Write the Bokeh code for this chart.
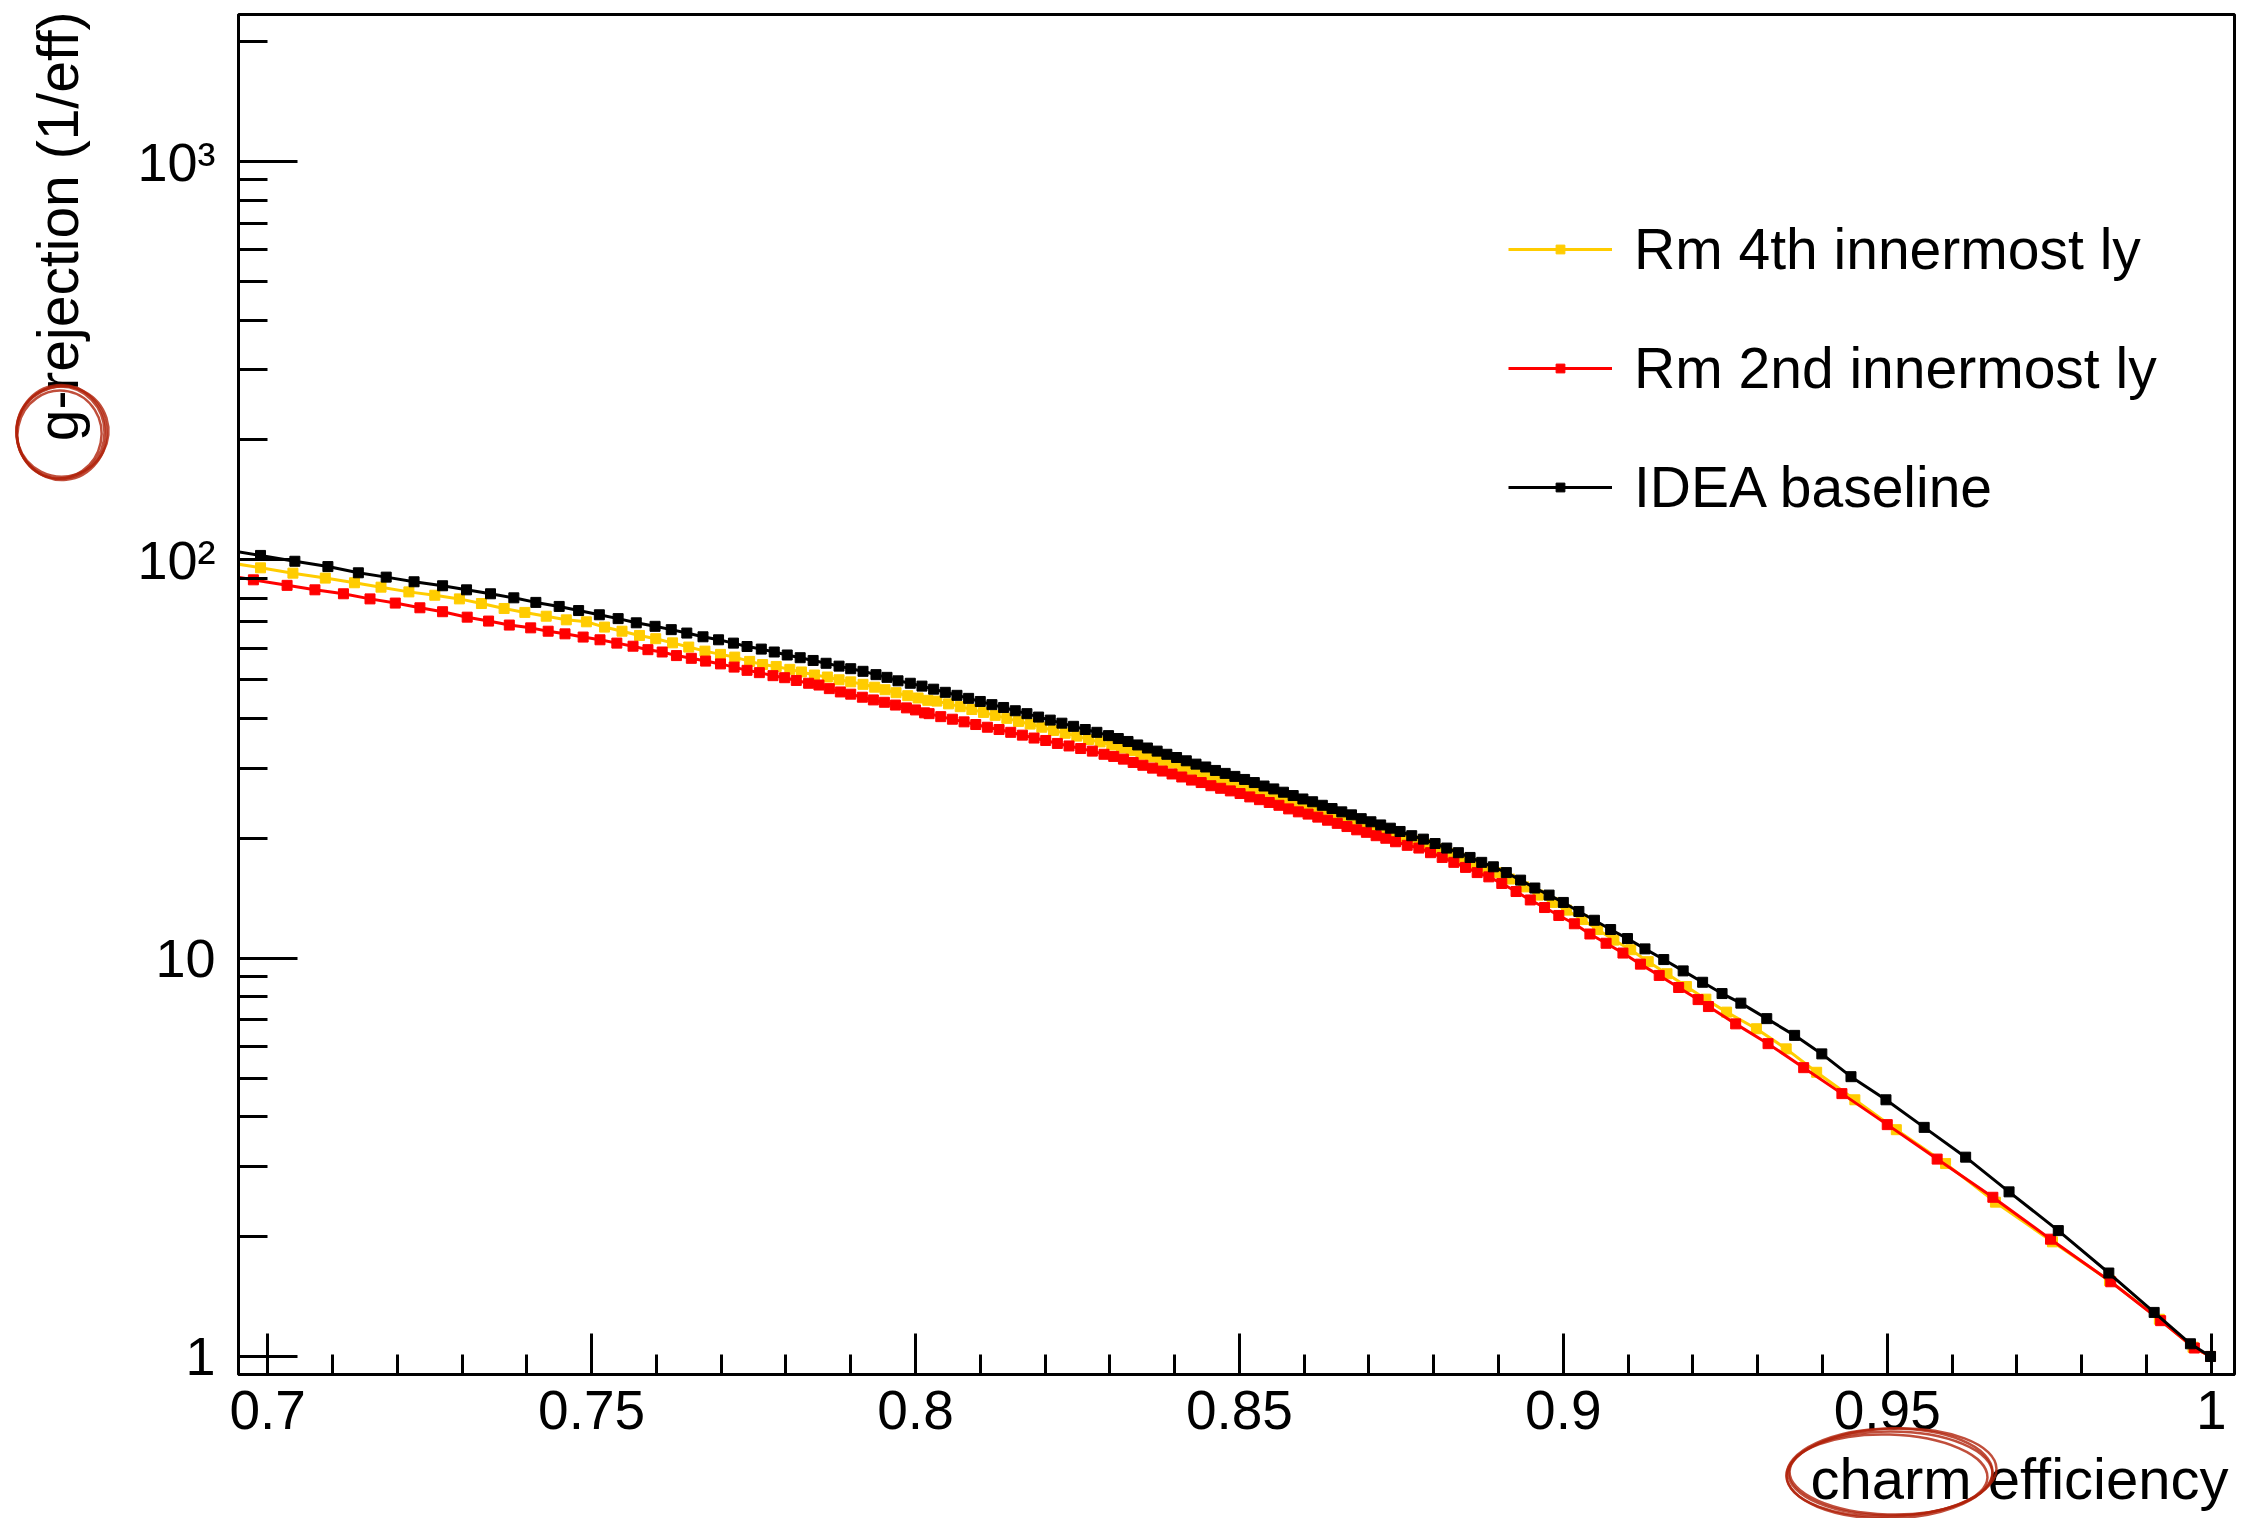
import numpy as np
from bokeh.plotting import figure
from bokeh.models import FixedTicker, Range1d, Legend, LegendItem, GridBox
from bokeh.core.properties import value
from bokeh.embed import file_html
from bokeh.resources import INLINE

# ---------------- data ----------------
black_x = [0.6937, 0.6989, 0.7042, 0.7093, 0.7140, 0.7183, 0.7226, 0.7270, 0.7307, 0.7344, 0.7380,
           0.7414, 0.7450, 0.7480, 0.7512, 0.7541, 0.7569, 0.7598, 0.7623, 0.7647, 0.7672,
           0.7696, 0.7719, 0.7740, 0.7762, 0.7782, 0.7802, 0.7822, 0.7842, 0.7862, 0.7882,
           0.7900, 0.7919, 0.7939, 0.7956, 0.7973, 0.7992, 0.8010,
           0.8028, 0.8046, 0.8064, 0.8082, 0.8100, 0.8118, 0.8136, 0.8154, 0.8172, 0.8190,
           0.8208, 0.8226, 0.8244, 0.8262, 0.8280, 0.8298,
           0.8313, 0.8328, 0.8343, 0.8358, 0.8373, 0.8388, 0.8403, 0.8418, 0.8433, 0.8448,
           0.8463, 0.8478, 0.8493, 0.8508, 0.8523, 0.8538, 0.8553, 0.8568, 0.8583, 0.8598,
           0.8613, 0.8628, 0.8643, 0.8658, 0.8673, 0.8688, 0.8703, 0.8718, 0.8733, 0.8748,
           0.8766, 0.8784, 0.8802, 0.8820, 0.8838, 0.8856, 0.8874, 0.8892,
           0.8912, 0.8934, 0.8956, 0.8978, 0.9000, 0.9024, 0.9048, 0.9073, 0.9099, 0.9126,
           0.9155, 0.9185, 0.9215, 0.9245,
           0.9274, 0.9314, 0.9357, 0.9399, 0.9444, 0.9498, 0.9557, 0.9621, 0.9688,
           0.9764, 0.9842, 0.9912, 0.9968, 0.9999]
black_y = [106.0, 102.6, 99.2, 96.2, 92.8, 90.5, 88.1, 86.1, 84.1, 82.2, 80.3,
           78.2, 76.4, 74.6, 72.8, 71.2, 69.5, 68.1, 66.8, 65.5, 64.1,
           63.0, 61.8, 60.6, 59.7, 58.7, 57.7, 56.8, 55.9, 55.0, 54.1,
           53.3, 52.5, 51.5, 50.7, 49.7, 49.0, 48.2,
           47.35, 46.5, 45.7, 44.9, 44.1, 43.3, 42.6, 41.8, 41.1, 40.3,
           39.6, 38.9, 38.2, 37.5, 36.9, 36.2,
           35.6, 35.0, 34.3, 33.7, 33.1, 32.5, 31.9, 31.3, 30.7, 30.2,
           29.6, 29.1, 28.6, 28.1, 27.6, 27.05, 26.6, 26.1, 25.6, 25.1,
           24.7, 24.2, 23.75, 23.3, 22.9, 22.4, 22.0, 21.6, 21.2, 20.8,
           20.3, 19.9, 19.4, 18.9, 18.4, 17.9, 17.4, 16.96,
           16.4, 15.7, 15.0, 14.4, 13.8, 13.1, 12.45, 11.8, 11.2, 10.55,
           9.92, 9.29, 8.70, 8.15,
           7.71, 7.05, 6.40, 5.75, 5.04, 4.41, 3.76, 3.165, 2.59,
           2.07, 1.62, 1.29, 1.076, 1.0]

yellow_x = [0.6939, 0.6989, 0.7039, 0.7089, 0.7134, 0.7175, 0.7218, 0.7258, 0.7296, 0.7330, 0.7365,
            0.7397, 0.7430, 0.7461, 0.7492, 0.7520, 0.7547, 0.7574, 0.7599, 0.7625, 0.7650,
            0.7675, 0.7699, 0.7721, 0.7744, 0.7764, 0.7785, 0.7806, 0.7824, 0.7844, 0.7864,
            0.7882, 0.7900, 0.7919, 0.7937, 0.7953, 0.7970, 0.7988, 0.8004, 0.8019,
            0.8033, 0.8051, 0.8069, 0.8087, 0.8105, 0.8123, 0.8141, 0.8159, 0.8177, 0.8195,
            0.8213, 0.8231, 0.8249, 0.8267, 0.8285, 0.8303,
            0.8318, 0.8333, 0.8348, 0.8363, 0.8378, 0.8393, 0.8408, 0.8423, 0.8438, 0.8453,
            0.8468, 0.8483, 0.8498, 0.8513, 0.8528, 0.8543, 0.8558, 0.8573, 0.8588, 0.8603,
            0.8618, 0.8633, 0.8648, 0.8663, 0.8678, 0.8693, 0.8708, 0.8723, 0.8738, 0.8753,
            0.8771, 0.8789, 0.8807, 0.8825, 0.8843, 0.8861, 0.8879, 0.8897,
            0.8917, 0.8939, 0.8961, 0.8983, 0.9005, 0.9029, 0.9053, 0.9078, 0.9104, 0.9131,
            0.9160, 0.9190, 0.9220,
            0.9252, 0.9298, 0.9344, 0.9391, 0.9450, 0.9514, 0.9590, 0.9667, 0.9755, 0.9843,
            0.9920, 0.9972, 0.9999]
yellow_y = [98.5, 95.5, 92.6, 90.0, 87.6, 85.4, 83.1, 81.5, 79.8, 77.7, 75.5,
            73.8, 72.2, 70.7, 69.9, 67.8, 66.2, 64.6, 63.4, 61.9, 60.4,
            59.0, 57.9, 57.0, 55.6, 54.6, 54.0, 53.1, 52.3, 51.4, 50.8,
            50.0, 49.4, 48.7, 47.9, 47.2, 46.4, 45.6, 45.0, 44.4,
            44.2, 43.5, 42.8, 42.1, 41.4, 40.7, 40.0, 39.3, 38.7, 38.0,
            37.3, 36.7, 36.1, 35.4, 34.9, 34.3,
            33.7, 33.2, 32.5, 32.0, 31.4, 30.9, 30.3, 29.8, 29.2, 28.8,
            28.2, 27.8, 27.3, 26.9, 26.4, 25.9, 25.5, 25.0, 24.6, 24.1,
            23.7, 23.3, 22.9, 22.4, 22.1, 21.6, 21.2, 20.9, 20.5, 20.1,
            19.7, 19.3, 18.8, 18.3, 17.8, 17.3, 16.8, 16.4,
            15.8, 15.1, 14.4, 13.8, 13.2, 12.5, 11.8, 11.1, 10.5, 9.80,
            9.14, 8.49, 7.89,
            7.32, 6.65, 5.92, 5.17, 4.41, 3.71, 3.05, 2.44, 1.94, 1.55,
            1.24, 1.055, 1.0]

red_x = [0.6925, 0.6978, 0.7030, 0.7073, 0.7117, 0.7158, 0.7197, 0.7235, 0.7270, 0.7308, 0.7341,
         0.7373, 0.7406, 0.7433, 0.7459, 0.7487, 0.7513, 0.7539, 0.7564, 0.7587, 0.7609,
         0.7631, 0.7654, 0.7676, 0.7699, 0.7720, 0.7740, 0.7759, 0.7780, 0.7798, 0.7816,
         0.7835, 0.7851, 0.7867, 0.7884, 0.7900, 0.7918, 0.7935, 0.7952, 0.7969, 0.7986,
         0.8000, 0.8014,
         0.8021, 0.8039, 0.8057, 0.8075, 0.8093, 0.8111, 0.8129, 0.8147, 0.8165, 0.8183,
         0.8201, 0.8219, 0.8237, 0.8255, 0.8273, 0.8291,
         0.8306, 0.8321, 0.8336, 0.8351, 0.8366, 0.8381, 0.8396, 0.8411, 0.8426, 0.8441,
         0.8456, 0.8471, 0.8486, 0.8501, 0.8516, 0.8531, 0.8546, 0.8561, 0.8576, 0.8591,
         0.8606, 0.8621, 0.8636, 0.8651, 0.8666, 0.8681, 0.8696, 0.8711, 0.8726, 0.8741,
         0.8759, 0.8777, 0.8795, 0.8813, 0.8831, 0.8849, 0.8867, 0.8885,
         0.8905, 0.8927, 0.8949, 0.8971, 0.8993, 0.9017, 0.9041, 0.9066, 0.9092, 0.9119,
         0.9148, 0.9178, 0.9208,
         0.9224, 0.9266, 0.9316, 0.9371, 0.9430, 0.9500, 0.9577, 0.9663, 0.9752, 0.9845,
         0.9922, 0.9974, 0.9999]
red_y = [92.0, 89.1, 86.3, 84.1, 82.2, 79.8, 77.9, 75.8, 74.1, 71.8, 70.2,
         68.6, 67.5, 66.2, 65.2, 64.0, 63.0, 61.8, 60.7, 59.5, 58.7,
         57.5, 56.6, 55.7, 54.8, 53.8, 52.8, 52.1, 51.2, 50.6, 49.8,
         49.0, 48.5, 47.5, 46.6, 46.0, 45.2, 44.5, 43.9, 43.2, 42.5,
         42.0, 41.3,
         41.1, 40.4, 39.8, 39.2, 38.6, 38.0, 37.5, 36.9, 36.3, 35.7,
         35.2, 34.6, 34.1, 33.6, 33.1, 32.5,
         32.1, 31.6, 31.0, 30.5, 30.0, 29.5, 29.0, 28.5, 28.0, 27.6,
         27.1, 26.7, 26.3, 25.9, 25.4, 25.0, 24.6, 24.2, 23.7, 23.3,
         23.0, 22.6, 22.2, 21.8, 21.4, 21.0, 20.7, 20.3, 20.0, 19.6,
         19.2, 18.9, 18.4, 17.9, 17.4, 16.9, 16.4, 16.0,
         15.4, 14.7, 14.0, 13.4, 12.8, 12.2, 11.5, 10.9, 10.3, 9.66,
         9.05, 8.44, 7.87,
         7.56, 6.84, 6.10, 5.31, 4.57, 3.82, 3.13, 2.51, 1.97, 1.54,
         1.23, 1.05, 1.0]

series_names = ["Rm 4th innermost ly", "Rm 2nd innermost ly", "IDEA baseline"]
series_colors = ["#FFCC00", "#FF0000", "#000000"]

x_major = [0.7, 0.75, 0.8, 0.85, 0.9, 0.95, 1.0]
x_minor = [0.69 + 0.01 * i for i in range(32)]
y_major = [1, 10, 100, 1000]
y_minor = [2, 3, 4, 5, 6, 7, 8, 9, 20, 30, 40, 50, 60, 70, 80, 90,
           200, 300, 400, 500, 600, 700, 800, 900, 2000]
y_labels = {1: "1", 10: "10", 100: "10²", 1000: "10³"}
x_labels = {0.7: "0.7", 0.75: "0.75", 0.8: "0.8", 0.85: "0.85", 0.9: "0.9", 0.95: "0.95", 1.0: "1"}

x_title = "charm efficiency"
y_title = "g-rejection (1/eff)"

# ---------------- main figure ----------------
W, H = 2247, 1518
FL, FT, FR, FB = 238, 14, 2234, 1374      # frame edges on the canvas
FONT = "Liberation Sans"

p = figure(width=W, height=H, y_axis_type="log", output_backend="svg", toolbar_location=None,
           x_range=Range1d(0.6955, 1.0036), y_range=Range1d(0.901, 2340),
           min_border_left=FL, min_border_right=W - FR, min_border_top=FT,
           min_border_bottom=H - FB)
p.background_fill_color = "white"
p.border_fill_color = "white"
p.outline_line_color = "black"
p.outline_line_width = 3
p.xgrid.visible = False
p.ygrid.visible = False

p.xaxis.ticker = FixedTicker(ticks=x_major, minor_ticks=x_minor)
p.yaxis.ticker = FixedTicker(ticks=y_major, minor_ticks=y_minor)
p.xaxis.major_label_overrides = x_labels
p.yaxis.major_label_overrides = y_labels
for ax in (p.xaxis, p.yaxis):
    ax.axis_line_width = 3
    ax.major_tick_line_width = 3
    ax.minor_tick_line_width = 3
    ax.major_tick_out = 0
    ax.minor_tick_out = 0
    ax.major_label_text_font = FONT
    ax.major_label_text_color = "black"
p.xaxis.major_label_text_font_size = "55px"
p.yaxis.major_label_text_font_size = "54px"
p.xaxis.major_tick_in = 41
p.xaxis.minor_tick_in = 20
p.yaxis.major_tick_in = 59
p.yaxis.minor_tick_in = 29
p.xaxis.major_label_standoff = 16
p.yaxis.major_label_standoff = 23

items = []
for xs, ys, name, col in [(yellow_x, yellow_y, series_names[0], series_colors[0]),
                          (red_x, red_y, series_names[1], series_colors[1]),
                          (black_x, black_y, series_names[2], series_colors[2])]:
    lr = p.line(xs, ys, line_color=col, line_width=3)
    sr = p.scatter(xs, ys, marker="square", size=10, fill_color=col, line_color=col)
    items.append(LegendItem(label=name, renderers=[lr, sr]))

legend = Legend(items=items, location=(1270, 854), orientation="vertical",
                border_line_alpha=0, background_fill_alpha=0,
                padding=0, margin=0, spacing=53,
                glyph_width=104, glyph_height=22, label_height=64,
                label_standoff=22, label_text_font=FONT, label_text_font_size="57px",
                label_text_color="black")
p.add_layout(legend)

# ---------------- transparent overlay (canvas pixel coordinates) ----------------
# axis titles at the axis ends (ROOT style) and the hand-drawn red rings
o = figure(width=W, height=H, output_backend="svg", toolbar_location=None,
           x_range=Range1d(0, W), y_range=Range1d(H, 0),
           x_axis_location=None, y_axis_location=None, min_border=0)
o.xgrid.visible = False
o.ygrid.visible = False
o.outline_line_color = None
o.background_fill_alpha = 0
o.border_fill_alpha = 0

for fig in (p, o):
    if "frame_align" in fig.properties():
        fig.frame_align = False

o.text(x=[2228], y=[1478], text=[x_title], text_align="right", text_baseline="alphabetic",
       text_font=value(FONT), text_font_size="58px", text_color="black")
o.text(x=[57], y=[11], text=[y_title], angle=np.pi / 2, text_align="right",
       text_baseline="alphabetic", text_font=value(FONT), text_font_size="57px",
       text_color="black")

ring_color = "#B0220A"
for cx, cy, w, h, ang in [(60, 432, 88, 92, 0.0), (62, 431, 92, 90, 0.3), (59, 434, 84, 88, -0.2),
                          (61, 432, 90, 95, 0.1)]:
    o.ellipse(x=[cx], y=[cy], width=w, height=h, angle=ang, fill_alpha=0,
              line_color=ring_color, line_width=2.5, line_alpha=0.8)
for cx, cy, w, h, ang in [(1890, 1473, 204, 84, 0.0), (1891, 1472, 210, 88, 0.04),
                          (1888, 1474, 198, 80, -0.03), (1889, 1473, 206, 90, 0.02)]:
    o.ellipse(x=[cx], y=[cy], width=w, height=h, angle=ang, fill_alpha=0,
              line_color=ring_color, line_width=2.5, line_alpha=0.8)

layout = GridBox(children=[(p, 0, 0), (o, 0, 0)])
open("out.html", "w").write(file_html(layout, INLINE))
